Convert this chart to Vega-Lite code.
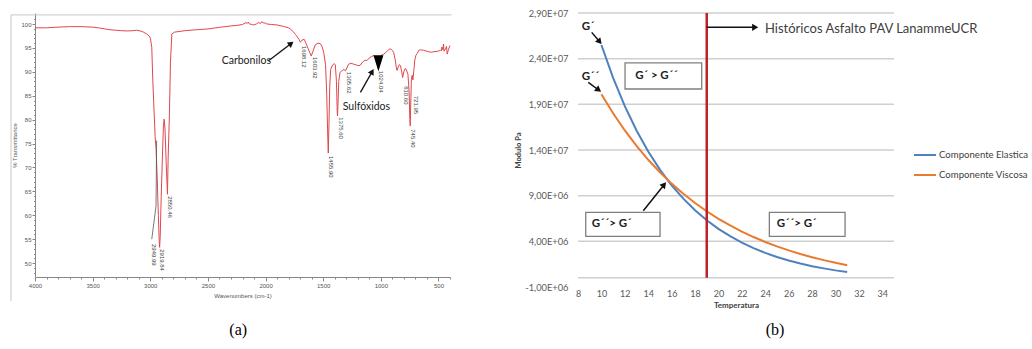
{
  "$schema": "https://vega.github.io/schema/vega-lite/v6.json",
  "autosize": {"type": "pad"},
  "padding": {"left": 10, "top": 9, "right": 0, "bottom": 0},
  "bounds": "flush",
  "spacing": 128,
  "background": "white",
  "config": {"view": {"stroke": null}, "font": "Lato", "axis": {"labelOverlap": false}},
  "datasets": {
    "spec": [
      {"w":4000,"t":99.2},{"w":3900,"t":99.2},{"w":3800,"t":99.35},{"w":3700,"t":99.45},{"w":3600,"t":99.45},{"w":3500,"t":99.35},{"w":3450,"t":99.2},{"w":3400,"t":99.0},{"w":3350,"t":98.8},{"w":3300,"t":98.7},{"w":3250,"t":98.6},{"w":3200,"t":98.55},{"w":3150,"t":98.6},{"w":3117,"t":98.7},{"w":3080,"t":98.5},{"w":3059,"t":98.3},{"w":3030,"t":97.9},{"w":3010,"t":97.5},{"w":2999,"t":97.0},{"w":2987,"t":95.1},{"w":2978,"t":88.1},{"w":2966,"t":81.2},{"w":2958,"t":76.5},{"w":2950,"t":74.0},{"w":2940,"t":68.0},{"w":2930,"t":60.0},{"w":2923,"t":55.0},{"w":2919,"t":53.3},{"w":2914,"t":55.5},{"w":2905,"t":64.0},{"w":2895,"t":72.0},{"w":2886,"t":78.5},{"w":2880,"t":80.1},{"w":2872,"t":78.0},{"w":2862,"t":71.0},{"w":2851,"t":64.4},{"w":2845,"t":72.0},{"w":2834,"t":81.0},{"w":2825,"t":92.0},{"w":2813,"t":97.9},{"w":2790,"t":98.3},{"w":2760,"t":98.4},{"w":2700,"t":98.6},{"w":2600,"t":98.8},{"w":2509,"t":98.95},{"w":2400,"t":99.3},{"w":2300,"t":99.6},{"w":2250,"t":99.7},{"w":2200,"t":99.9},{"w":2170,"t":100.3},{"w":2160,"t":100.1},{"w":2150,"t":100.4},{"w":2140,"t":100.0},{"w":2120,"t":99.9},{"w":2104,"t":99.8},{"w":2080,"t":100.0},{"w":2060,"t":100.3},{"w":2045,"t":100.1},{"w":2031,"t":100.5},{"w":2020,"t":100.2},{"w":2000,"t":100.2},{"w":1988,"t":100.0},{"w":1950,"t":99.9},{"w":1900,"t":99.8},{"w":1843,"t":99.5},{"w":1800,"t":99.2},{"w":1785,"t":98.95},{"w":1760,"t":98.4},{"w":1740,"t":97.8},{"w":1727,"t":97.4},{"w":1710,"t":96.8},{"w":1698,"t":96.2},{"w":1685,"t":96.6},{"w":1665,"t":96.8},{"w":1650,"t":96.0},{"w":1630,"t":94.8},{"w":1604,"t":93.3},{"w":1590,"t":94.2},{"w":1570,"t":95.6},{"w":1545,"t":96.0},{"w":1525,"t":95.9},{"w":1510,"t":95.3},{"w":1495,"t":94.0},{"w":1480,"t":91.5},{"w":1470,"t":86.0},{"w":1462,"t":78.0},{"w":1456,"t":73.0},{"w":1450,"t":79.0},{"w":1443,"t":87.0},{"w":1435,"t":90.5},{"w":1420,"t":91.4},{"w":1405,"t":91.7},{"w":1395,"t":91.5},{"w":1385,"t":88.0},{"w":1378,"t":81.5},{"w":1376,"t":80.8},{"w":1372,"t":83.0},{"w":1365,"t":88.0},{"w":1355,"t":89.8},{"w":1340,"t":90.2},{"w":1320,"t":90.5},{"w":1306,"t":90.2},{"w":1295,"t":90.8},{"w":1280,"t":91.6},{"w":1260,"t":91.8},{"w":1235,"t":91.6},{"w":1210,"t":91.4},{"w":1190,"t":91.3},{"w":1177,"t":91.4},{"w":1160,"t":92.0},{"w":1140,"t":92.4},{"w":1119,"t":92.4},{"w":1100,"t":92.9},{"w":1080,"t":93.2},{"w":1061,"t":93.4},{"w":1045,"t":93.1},{"w":1035,"t":92.3},{"w":1024,"t":90.7},{"w":1015,"t":92.5},{"w":1000,"t":93.4},{"w":975,"t":93.7},{"w":950,"t":94.2},{"w":930,"t":94.7},{"w":917,"t":94.8},{"w":900,"t":94.5},{"w":888,"t":94.0},{"w":875,"t":92.5},{"w":865,"t":90.8},{"w":859,"t":90.3},{"w":850,"t":91.0},{"w":840,"t":91.5},{"w":830,"t":91.3},{"w":820,"t":90.2},{"w":811,"t":88.8},{"w":800,"t":90.0},{"w":790,"t":90.7},{"w":780,"t":90.5},{"w":765,"t":89.5},{"w":755,"t":86.0},{"w":748,"t":80.0},{"w":745,"t":78.7},{"w":742,"t":82.0},{"w":735,"t":88.4},{"w":728,"t":89.3},{"w":722,"t":88.3},{"w":715,"t":90.0},{"w":705,"t":92.5},{"w":695,"t":93.5},{"w":685,"t":93.8},{"w":670,"t":94.5},{"w":656,"t":94.6},{"w":630,"t":94.5},{"w":600,"t":94.3},{"w":569,"t":94.1},{"w":540,"t":94.2},{"w":510,"t":94.3},{"w":490,"t":94.4},{"w":483,"t":94.6},{"w":475,"t":94.4},{"w":470,"t":95.2},{"w":462,"t":94.6},{"w":456,"t":95.8},{"w":452,"t":94.3},{"w":440,"t":94.7},{"w":430,"t":95.3},{"w":424,"t":93.7},{"w":415,"t":94.5},{"w":405,"t":95.2},{"w":400,"t":95.5}
    ],
    "curves": [
      {"T":10,"G":25500000,"serie":"Componente Elastica"},{"T":11,"G":21900000,"serie":"Componente Elastica"},{"T":12,"G":18810000,"serie":"Componente Elastica"},{"T":13,"G":16130000,"serie":"Componente Elastica"},{"T":14,"G":13830000,"serie":"Componente Elastica"},{"T":15,"G":11850000,"serie":"Componente Elastica"},{"T":16,"G":10140000,"serie":"Componente Elastica"},{"T":17,"G":8670000,"serie":"Componente Elastica"},{"T":18,"G":7400000,"serie":"Componente Elastica"},{"T":19,"G":6310000,"serie":"Componente Elastica"},{"T":20,"G":5370000,"serie":"Componente Elastica"},{"T":21,"G":4560000,"serie":"Componente Elastica"},{"T":22,"G":3860000,"serie":"Componente Elastica"},{"T":23,"G":3250000,"serie":"Componente Elastica"},{"T":24,"G":2730000,"serie":"Componente Elastica"},{"T":25,"G":2290000,"serie":"Componente Elastica"},{"T":26,"G":1900000,"serie":"Componente Elastica"},{"T":27,"G":1570000,"serie":"Componente Elastica"},{"T":28,"G":1280000,"serie":"Componente Elastica"},{"T":29,"G":1040000,"serie":"Componente Elastica"},{"T":30,"G":820000,"serie":"Componente Elastica"},{"T":31,"G":640000,"serie":"Componente Elastica"},
      {"T":10,"G":20100000,"serie":"Componente Viscosa"},{"T":11,"G":18020000,"serie":"Componente Viscosa"},{"T":12,"G":16140000,"serie":"Componente Viscosa"},{"T":13,"G":14450000,"serie":"Componente Viscosa"},{"T":14,"G":12930000,"serie":"Componente Viscosa"},{"T":15,"G":11560000,"serie":"Componente Viscosa"},{"T":16,"G":10320000,"serie":"Componente Viscosa"},{"T":17,"G":9200000,"serie":"Componente Viscosa"},{"T":18,"G":8200000,"serie":"Componente Viscosa"},{"T":19,"G":7290000,"serie":"Componente Viscosa"},{"T":20,"G":6470000,"serie":"Componente Viscosa"},{"T":21,"G":5740000,"serie":"Componente Viscosa"},{"T":22,"G":5070000,"serie":"Componente Viscosa"},{"T":23,"G":4470000,"serie":"Componente Viscosa"},{"T":24,"G":3930000,"serie":"Componente Viscosa"},{"T":25,"G":3450000,"serie":"Componente Viscosa"},{"T":26,"G":3010000,"serie":"Componente Viscosa"},{"T":27,"G":2610000,"serie":"Componente Viscosa"},{"T":28,"G":2260000,"serie":"Componente Viscosa"},{"T":29,"G":1940000,"serie":"Componente Viscosa"},{"T":30,"G":1650000,"serie":"Componente Viscosa"},{"T":31,"G":1380000,"serie":"Componente Viscosa"}
    ]
  },
  "hconcat": [
    {
      "width": 415,
      "height": 264,
      "layer": [
        {
          "data": {"name": "spec"},
          "mark": {"type": "line", "color": "#E0474C", "strokeWidth": 1},
          "encoding": {
            "x": {
              "field": "w", "type": "quantitative",
              "scale": {"domain": [400, 4000], "reverse": true, "nice": false, "zero": false},
              "axis": {
                "title": "Wavenumbers (cm-1)",
                "values": [4000,3900,3800,3700,3600,3500,3400,3300,3200,3100,3000,2900,2800,2700,2600,2500,2400,2300,2200,2100,2000,1900,1800,1700,1600,1500,1400,1300,1200,1100,1000,900,800,700,600,500,400],
                "tickCount": 200,
                "format": "d",
                "labelExpr": "datum.value % 500 === 0 && datum.value > 400 ? datum.label : ''",
                "labelOverlap": false, "labelFlush": false,
                "labelFont": "Liberation Sans", "labelFontSize": 6, "labelColor": "#555555", "labelPadding": 1,
                "titleFont": "Liberation Sans", "titleFontSize": 6, "titleFontWeight": "normal", "titleColor": "#555555", "titlePadding": 4,
                "tickSize": {"condition": {"test": "datum.value % 500 === 0", "value": 4}, "value": 2},
                "tickColor": "#888888", "domainColor": "#888888", "grid": false
              }
            },
            "y": {
              "field": "t", "type": "quantitative",
              "scale": {"domain": [47.1, 102.3], "nice": false, "zero": false},
              "axis": {
                "title": "% Transmittance",
                "values": [48,49,50,51,52,53,54,55,56,57,58,59,60,61,62,63,64,65,66,67,68,69,70,71,72,73,74,75,76,77,78,79,80,81,82,83,84,85,86,87,88,89,90,91,92,93,94,95,96,97,98,99,100,101],
                "tickCount": 200,
                "format": "d",
                "labelExpr": "datum.value % 5 === 0 ? datum.label : ''",
                "labelOverlap": false, "labelFlush": false,
                "labelFont": "Liberation Sans", "labelFontSize": 6, "labelColor": "#555555", "labelPadding": 1,
                "titleFont": "Liberation Sans", "titleFontSize": 6, "titleFontWeight": "normal", "titleColor": "#555555", "titlePadding": 3,
                "tickSize": {"condition": {"test": "datum.value % 5 === 0", "value": 3}, "value": 1.5},
                "tickColor": "#888888", "domainColor": "#888888", "grid": false
              }
            }
          }
        },
        {
          "data": {"values": [{"w":4208,"w2":387,"t":101.9,"t2":101.9},{"w":4208,"w2":4208,"t":101.9,"t2":42.05}]},
          "mark": {"type": "rule", "color": "#c8c8c8", "strokeWidth": 1},
          "encoding": {
            "x": {"field": "w", "type": "quantitative"},
            "x2": {"field": "w2"},
            "y": {"field": "t", "type": "quantitative"},
            "y2": {"field": "t2"}
          }
        },
        {
          "data": {"values": [{"w":2945,"t":75.6},{"w":2950,"t":62},{"w":2987,"t":55}]},
          "mark": {"type": "line", "color": "#555555", "strokeWidth": 0.8},
          "encoding": {
            "x": {"field": "w", "type": "quantitative"},
            "y": {"field": "t", "type": "quantitative"},
            "order": {"field": "t", "type": "quantitative"}
          }
        },
        {
          "data": {"values": [
            {"w":2969,"t":54.0,"lab":"2949.99"},
            {"w":2900,"t":52.9,"lab":"2919.84"},
            {"w":2828,"t":64.0,"lab":"2850.46"},
            {"w":1670,"t":95.4,"lab":"1698.12"},
            {"w":1574,"t":93.1,"lab":"1603.92"},
            {"w":1429,"t":72.4,"lab":"1455.90"},
            {"w":1345,"t":80.5,"lab":"1375.60"},
            {"w":1279,"t":90.0,"lab":"1305.62"},
            {"w":995,"t":90.2,"lab":"1024.04"},
            {"w":778,"t":87.0,"lab":"810.60"},
            {"w":717,"t":78.0,"lab":"745.40"},
            {"w":691,"t":85.0,"lab":"721.95"}
          ]},
          "mark": {"type": "text", "angle": 90, "align": "left", "baseline": "middle", "font": "Liberation Sans", "fontSize": 6, "color": "#444444"},
          "encoding": {
            "x": {"field": "w", "type": "quantitative"},
            "y": {"field": "t", "type": "quantitative"},
            "text": {"field": "lab"}
          }
        },
        {
          "data": {"values": [
            {"w":2167,"t":92.3,"lab":"Carbonilos"},
            {"w":1125,"t":82.6,"lab":"Sulfóxidos"}
          ]},
          "mark": {"type": "text", "align": "center", "baseline": "middle", "font": "Lato", "fontSize": 10.5, "color": "#222222"},
          "encoding": {
            "x": {"field": "w", "type": "quantitative"},
            "y": {"field": "t", "type": "quantitative"},
            "text": {"field": "lab"}
          }
        },
        {
          "data": {"values": [
            {"w":1974,"t":92.3,"w2":1778,"t2":95.92},
            {"w":1177,"t":85.7,"w2":1075,"t2":90.05}
          ]},
          "mark": {"type": "rule", "color": "#111111", "strokeWidth": 1.3},
          "encoding": {
            "x": {"field": "w", "type": "quantitative"},
            "y": {"field": "t", "type": "quantitative"},
            "x2": {"field": "w2"},
            "y2": {"field": "t2"}
          }
        },
        {
          "data": {"values": [{"w":1778,"t":95.92}]},
          "mark": {"type": "point", "shape": "triangle-right", "size": 45, "filled": true, "color": "#111111", "opacity": 1, "angle": 323},
          "encoding": {
            "x": {"field": "w", "type": "quantitative"},
            "y": {"field": "t", "type": "quantitative"}
          }
        },
        {
          "data": {"values": [{"w":1075,"t":90.05}]},
          "mark": {"type": "point", "shape": "triangle-right", "size": 45, "filled": true, "color": "#111111", "opacity": 1, "angle": 300},
          "encoding": {
            "x": {"field": "w", "type": "quantitative"},
            "y": {"field": "t", "type": "quantitative"}
          }
        },
        {
          "data": {"values": [{"w":1021,"t":91.8}]},
          "mark": {"type": "point", "shape": "M-0.625,-1L0.625,-1L0,1Z", "size": 256, "filled": true, "color": "#000000", "opacity": 1},
          "encoding": {
            "x": {"field": "w", "type": "quantitative"},
            "y": {"field": "t", "type": "quantitative"}
          }
        },
        {
          "data": {"values": [{"w":2237,"t":35.98,"lab":"(a)"}]},
          "mark": {"type": "text", "align": "center", "baseline": "middle", "font": "Liberation Serif", "fontSize": 16, "color": "#000000"},
          "encoding": {
            "x": {"field": "w", "type": "quantitative"},
            "y": {"field": "t", "type": "quantitative"},
            "text": {"field": "lab"}
          }
        }
      ]
    },
    {
      "width": 316,
      "height": 274,
      "layer": [
        {
          "data": {"values": [{"G":0},{"G":4000000},{"G":9000000},{"G":14000000},{"G":19000000},{"G":24000000},{"G":29000000}]},
          "mark": {"type": "rule", "color": "#cfcfcf", "strokeWidth": 1.5},
          "encoding": {
            "y": {"field": "G", "type": "quantitative"}
          }
        },
        {
          "data": {"name": "curves"},
          "mark": {"type": "line", "strokeWidth": 2},
          "encoding": {
            "x": {
              "field": "T", "type": "quantitative",
              "scale": {"domain": [8, 35], "nice": false, "zero": false},
              "axis": {
                "title": "Temperatura",
                "values": [8,10,12,14,16,18,20,22,24,26,28,30,32,34],
                "tickCount": 200,
                "format": "d",
                "labelOverlap": false, "labelFlush": false,
                "domain": false, "ticks": false, "grid": false,
                "labelFont": "Lato", "labelFontSize": 9, "labelColor": "#595959", "labelPadding": 2,
                "titleFont": "Lato", "titleFontSize": 8, "titleFontWeight": "bold", "titleColor": "#404040", "titlePadding": 3
              }
            },
            "y": {
              "field": "G", "type": "quantitative",
              "scale": {"domain": [-1000000, 29000000], "nice": false, "zero": false},
              "axis": {
                "title": "Modulo Pa",
                "values": [-1000000, 4000000, 9000000, 14000000, 19000000, 24000000, 29000000],
                "tickCount": 200,
                "labelExpr": "replace(replace(replace(format(datum.value, '.2e'), '.', ','), 'e+', 'E+0'), '−', '-')",
                "labelOverlap": false, "labelFlush": false,
                "domain": false, "ticks": false, "grid": false,
                "labelFont": "Lato", "labelFontSize": 9.3, "labelColor": "#595959", "labelPadding": 10,
                "titleFont": "Lato", "titleFontSize": 7.5, "titleFontWeight": "bold", "titleColor": "#404040", "titlePadding": 2
              }
            },
            "color": {
              "field": "serie", "type": "nominal",
              "scale": {"domain": ["Componente Elastica", "Componente Viscosa"], "range": ["#4F81BD", "#E97B2E"]},
              "legend": {
                "title": null, "orient": "none", "legendX": 878, "legendY": 130,
                "symbolType": "stroke", "symbolSize": 480, "symbolStrokeWidth": 2,
                "labelFont": "Lato", "labelFontSize": 9.6, "labelColor": "#404040", "labelOffset": 2, "rowPadding": 3
              }
            }
          }
        },
        {
          "data": {"values": [{"T":19,"G":0,"G2":29000000}]},
          "mark": {"type": "rule", "color": "#C0202A", "strokeWidth": 2.5},
          "encoding": {
            "x": {"field": "T", "type": "quantitative"},
            "y": {"field": "G", "type": "quantitative"},
            "y2": {"field": "G2"}
          }
        },
        {
          "data": {"values": [
            {"T":12.02,"T2":18.57,"G":23530000,"G2":20680000},
            {"T":8.66,"T2":15.01,"G":7180000,"G2":4550000},
            {"T":24.35,"T2":30.82,"G":7180000,"G2":4550000}
          ]},
          "mark": {"type": "rect", "fill": "white", "stroke": "#7f7f7f", "strokeWidth": 1.3},
          "encoding": {
            "x": {"field": "T", "type": "quantitative"},
            "x2": {"field": "T2"},
            "y": {"field": "G", "type": "quantitative"},
            "y2": {"field": "G2"}
          }
        },
        {
          "data": {"values": [
            {"T":14.71,"G":22100000,"lab":"G´ > G´´"},
            {"T":10.88,"G":5900000,"lab":"G´´> G´"},
            {"T":26.69,"G":5900000,"lab":"G´´> G´"}
          ]},
          "mark": {"type": "text", "align": "center", "baseline": "middle", "font": "Lato", "fontSize": 11.5, "fontWeight": "bold", "color": "#222222"},
          "encoding": {
            "x": {"field": "T", "type": "quantitative"},
            "y": {"field": "G", "type": "quantitative"},
            "text": {"field": "lab"}
          }
        },
        {
          "data": {"values": [
            {"T":8.32,"G":27430000,"lab":"G´"},
            {"T":8.32,"G":22000000,"lab":"G´´"}
          ]},
          "mark": {"type": "text", "align": "left", "baseline": "middle", "font": "Lato", "fontSize": 11.5, "fontWeight": "bold", "color": "#222222"},
          "encoding": {
            "x": {"field": "T", "type": "quantitative"},
            "y": {"field": "G", "type": "quantitative"},
            "text": {"field": "lab"}
          }
        },
        {
          "data": {"values": [
            {"T":19.0,"G":27430000,"T2":23.14,"G2":27430000},
            {"T":9.17,"G":26880000,"T2":9.85,"G2":25850000},
            {"T":8.88,"G":21410000,"T2":9.76,"G2":20570000},
            {"T":13.58,"G":7350000,"T2":15.36,"G2":10200000}
          ]},
          "mark": {"type": "rule", "color": "#111111", "strokeWidth": 1.5},
          "encoding": {
            "x": {"field": "T", "type": "quantitative"},
            "y": {"field": "G", "type": "quantitative"},
            "x2": {"field": "T2"},
            "y2": {"field": "G2"}
          }
        },
        {
          "data": {"values": [{"T":23.14,"G":27430000}]},
          "mark": {"type": "point", "shape": "triangle-right", "size": 50, "filled": true, "color": "#111111", "opacity": 1, "angle": 0},
          "encoding": {
            "x": {"field": "T", "type": "quantitative"},
            "y": {"field": "G", "type": "quantitative"}
          }
        },
        {
          "data": {"values": [{"T":9.85,"G":25850000}]},
          "mark": {"type": "point", "shape": "triangle-right", "size": 50, "filled": true, "color": "#111111", "opacity": 1, "angle": 49},
          "encoding": {
            "x": {"field": "T", "type": "quantitative"},
            "y": {"field": "G", "type": "quantitative"}
          }
        },
        {
          "data": {"values": [{"T":9.76,"G":20570000}]},
          "mark": {"type": "point", "shape": "triangle-right", "size": 50, "filled": true, "color": "#111111", "opacity": 1, "angle": 37},
          "encoding": {
            "x": {"field": "T", "type": "quantitative"},
            "y": {"field": "G", "type": "quantitative"}
          }
        },
        {
          "data": {"values": [{"T":15.36,"G":10200000}]},
          "mark": {"type": "point", "shape": "triangle-right", "size": 50, "filled": true, "color": "#111111", "opacity": 1, "angle": 309},
          "encoding": {
            "x": {"field": "T", "type": "quantitative"},
            "y": {"field": "G", "type": "quantitative"}
          }
        },
        {
          "data": {"values": [{"T":23.98,"G":27250000,"lab":"Históricos Asfalto PAV LanammeUCR"}]},
          "mark": {"type": "text", "align": "left", "baseline": "middle", "font": "Lato", "fontSize": 13, "color": "#404040"},
          "encoding": {
            "x": {"field": "T", "type": "quantitative"},
            "y": {"field": "G", "type": "quantitative"},
            "text": {"field": "lab"}
          }
        },
        {
          "data": {"values": [{"T":24.84,"G":-5710000,"lab":"(b)"}]},
          "mark": {"type": "text", "align": "center", "baseline": "middle", "font": "Liberation Serif", "fontSize": 16, "color": "#000000"},
          "encoding": {
            "x": {"field": "T", "type": "quantitative"},
            "y": {"field": "G", "type": "quantitative"},
            "text": {"field": "lab"}
          }
        }
      ]
    }
  ]
}
